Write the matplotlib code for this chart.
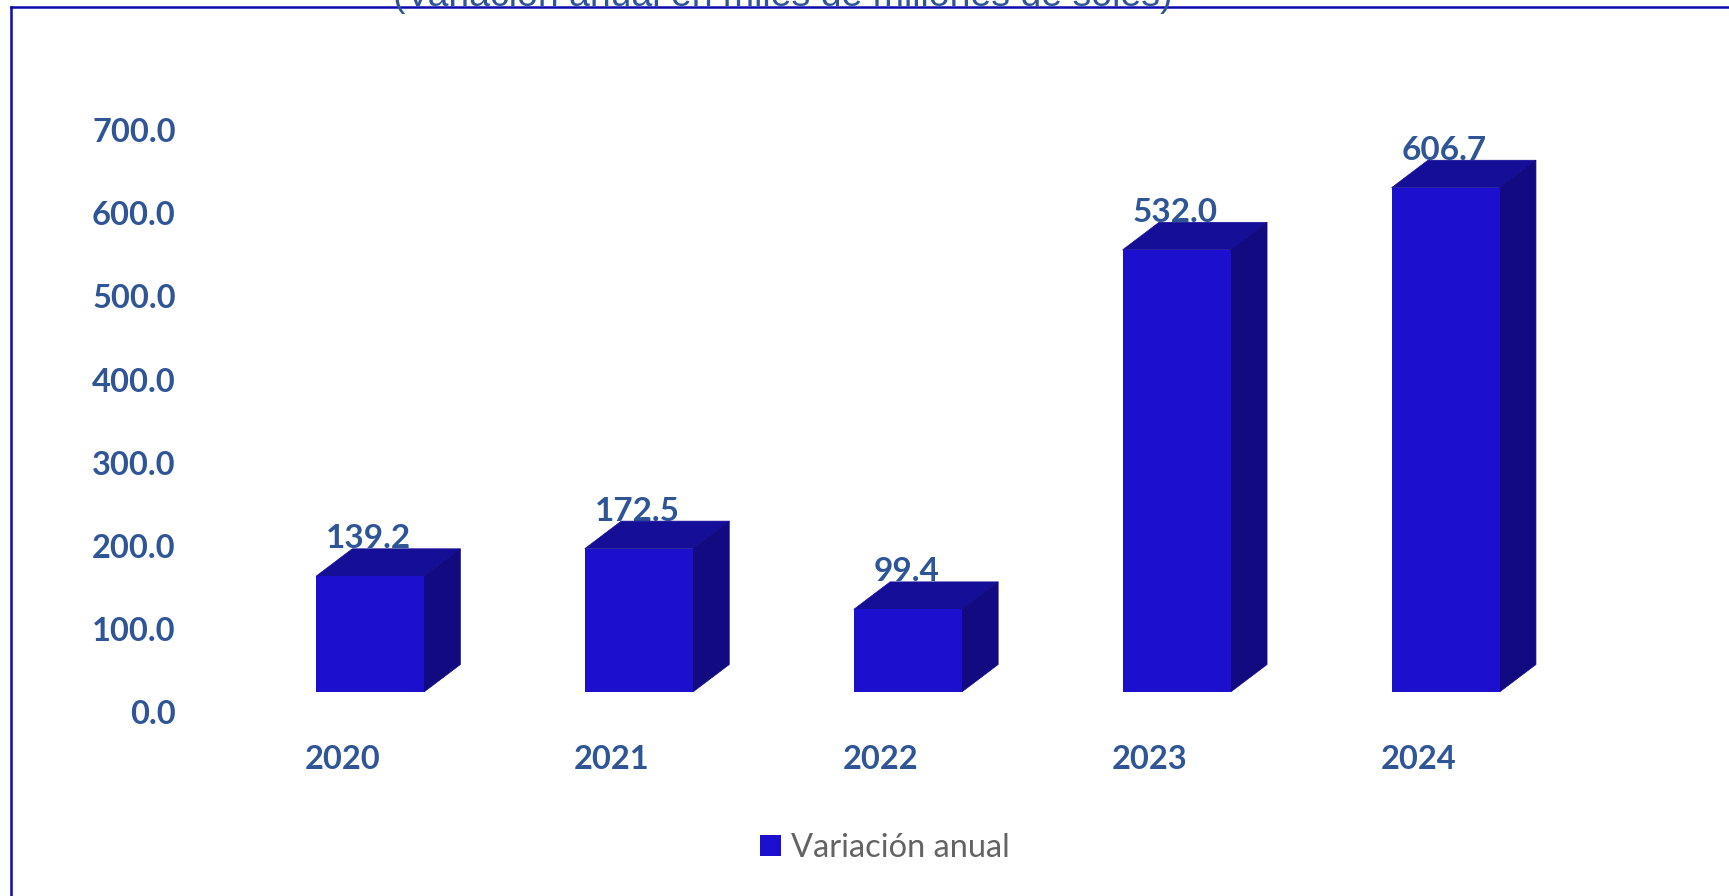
import matplotlib
matplotlib.use("Agg")
import matplotlib.pyplot as plt
from matplotlib.lines import Line2D
from matplotlib.patches import Polygon
from matplotlib.transforms import ScaledTranslation

years = ["2020", "2021", "2022", "2023", "2024"]
variacion = [139.2, 172.5, 99.4, 532.0, 606.7]
y_ticks = [0, 100, 200, 300, 400, 500, 600, 700]
title = "(Variación anual en miles de millones de soles)"
legend_label = "Variación anual"

W, H = 1729, 896
FRONT = "#1C10CE"
TOP = "#150E96"
SIDE = "#110A80"
TEXT = "#2F5597"
FRAME = "#0A0AB0"
FONT = "Lato"

fig = plt.figure(figsize=(W / 100, H / 100), dpi=100, facecolor="white")
ax = fig.add_axes([235.5 / W, (H - 692) / H, 1344.5 / W, 581.8 / H])
ax.set_xlim(-0.5, 4.5)
ax.set_ylim(0, 700)
ax.patch.set_visible(False)
for s in ax.spines.values():
    s.set_visible(False)

# profundidad del efecto 3D, en unidades de los datos
depth_x = 36.4 / 268.9
depth_y = 27.5 / 0.831
width = 108 / 268.9

x = list(range(len(years)))
bars = ax.bar(x, variacion, width, color=FRONT, zorder=4, label=legend_label)

for bar, val in zip(bars, variacion):
    x0, x1 = bar.get_x(), bar.get_x() + bar.get_width()
    ax.add_patch(Polygon([(x0, val), (x1, val), (x1 + depth_x, val + depth_y),
                          (x0 + depth_x, val + depth_y)],
                         facecolor=TOP, edgecolor=TOP, lw=0.5, zorder=3))
    ax.add_patch(Polygon([(x1, 0), (x1 + depth_x, depth_y),
                          (x1 + depth_x, val + depth_y), (x1, val)],
                         facecolor=SIDE, edgecolor=SIDE, lw=0.5, zorder=3))
    ax.annotate(f"{val:.1f}", (bar.get_x() + bar.get_width() / 2, val),
                xytext=(-1, 27), textcoords="offset points",
                ha="center", va="center", fontsize=24, fontweight="bold",
                color=TEXT, family=FONT, zorder=2)

ax.set_xticks(x)
ax.set_xticklabels(years)
ax.set_yticks(y_ticks)
ax.set_yticklabels([f"{v:.1f}" for v in y_ticks])
ax.tick_params(axis="both", length=0, labelsize=23.5, labelcolor=TEXT)
ax.tick_params(axis="y", pad=43)
ax.tick_params(axis="x", pad=38)

# las etiquetas van desplazadas respecto a las barras, como en el original
shift_y = ScaledTranslation(0, -20 / 100, fig.dpi_scale_trans)
shift_x = ScaledTranslation(-27 / 100, 0, fig.dpi_scale_trans)
for lab in ax.get_yticklabels():
    lab.set_transform(lab.get_transform() + shift_y)
    lab.set_fontfamily(FONT)
    lab.set_fontweight("bold")
for lab in ax.get_xticklabels():
    lab.set_transform(lab.get_transform() + shift_x)
    lab.set_fontfamily(FONT)
    lab.set_fontweight("bold")

leg = ax.legend(loc="center", bbox_to_anchor=(885 / W, (H - 848) / H),
                bbox_transform=fig.transFigure, frameon=False,
                handlelength=0.64, handleheight=0.64, handletextpad=0.3,
                prop={"family": FONT, "size": 23.5})
leg.get_texts()[0].set_color("#636363")

# marco: solo se ven los lados izquierdo y superior
fig.add_artist(Line2D([11 / W, 11 / W], [0, (H - 7) / H], color=FRAME, lw=1.8))
fig.add_artist(Line2D([11 / W, 1], [(H - 7) / H, (H - 7) / H], color=FRAME, lw=1.8))

fig.text(783 / W, (H - 6) / H, title, ha="center", va="baseline",
         fontsize=26.9, color="#2F5597", family="Liberation Sans")

fig.savefig("out.png", dpi=100)
plt.close(fig)
